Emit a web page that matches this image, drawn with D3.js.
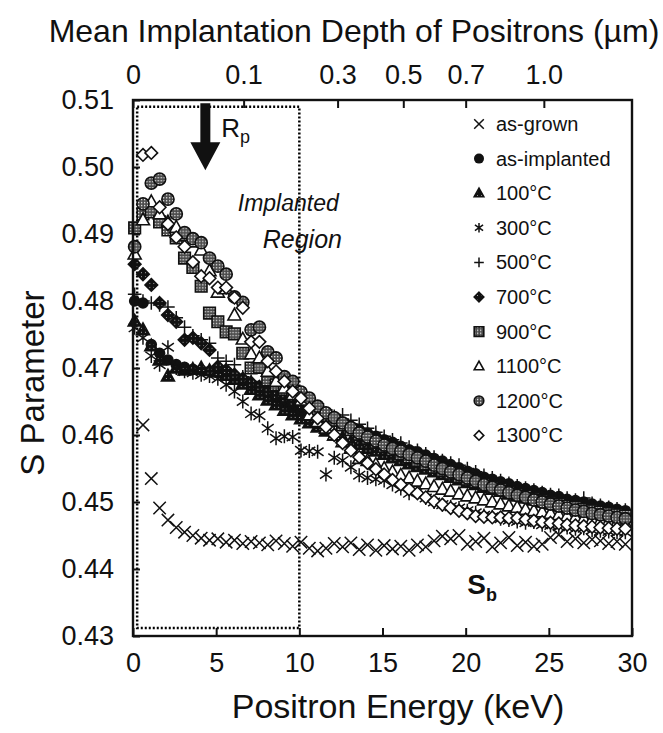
<!DOCTYPE html>
<html lang="en">
<head>
<meta charset="utf-8">
<title>S parameter vs positron energy</title>
<script src="https://cdn.jsdelivr.net/npm/d3@7"></script>
<style>
  body { margin: 0; background: #fff; }
  text { font-family: "Liberation Sans", Arial, sans-serif; fill: #111; }
</style>
</head>
<body>
<div id="chart"></div>
<script>
// positron energies (keV), shared by every series
var energies = [0.1, 0.6, 1.1, 1.6, 2.1, 2.6, 3.1, 3.6, 4.1, 4.6,
  5.1, 5.6, 6.1, 6.6, 7.1, 7.6, 8.1, 8.6, 9.1, 9.6,
  10.1, 10.6, 11.1, 11.6, 12.1, 12.6, 13.1, 13.6, 14.1, 14.6,
  15.1, 15.6, 16.1, 16.6, 17.1, 17.6, 18.1, 18.6, 19.1, 19.6,
  20.1, 20.6, 21.1, 21.6, 22.1, 22.6, 23.1, 23.6, 24.1, 24.6,
  25.1, 25.6, 26.1, 26.6, 27.1, 27.6, 28.1, 28.6, 29.1, 29.6];

// S parameter, one array per sample (null = no point)
var sAsGrown = [null, 0.4615, 0.4535, 0.4491, 0.4473, 0.4462, 0.4455, 0.4450, 0.4446, 0.4443,
  0.4445, 0.4440, 0.4443, 0.4438, 0.4441, 0.4439, 0.4436, 0.4442, 0.4438, 0.4434,
  0.4440, 0.4431, 0.4427, 0.4431, 0.4438, 0.4433, 0.4439, 0.4429, 0.4436, 0.4428,
  0.4435, 0.4430, 0.4434, 0.4428, 0.4436, 0.4433, 0.4442, 0.4449, 0.4445, 0.4450,
  0.4437, 0.4441, 0.4446, 0.4433, 0.4439, 0.4447, 0.4435, 0.4440, 0.4434, 0.4437,
  0.4447, 0.4451, 0.4441, 0.4445, 0.4439, 0.4444, 0.4442, 0.4438, 0.4441, 0.4437];
var sAsImplanted = [0.4800, 0.4797, 0.4735, 0.4722, 0.4712, 0.4705, 0.4701, 0.4698, 0.4697, 0.4695,
  0.4693, 0.4690, 0.4685, 0.4678, 0.4672, 0.4665, 0.4658, 0.4652, 0.4645, 0.4640,
  0.4634, 0.4632, 0.4629, 0.4625, 0.4622, 0.4618, 0.4613, 0.4608, 0.4603, 0.4598,
  0.4593, 0.4589, 0.4583, 0.4578, 0.4575, 0.4570, 0.4565, 0.4561, 0.4556, 0.4551,
  0.4546, 0.4542, 0.4537, 0.4534, 0.4530, 0.4527, 0.4523, 0.4520, 0.4517, 0.4514,
  0.4510, 0.4508, 0.4504, 0.4502, 0.4500, 0.4497, 0.4494, 0.4492, 0.4489, 0.4487];
var s100 = [0.4770, 0.4757, 0.4733, 0.4712, 0.4688, 0.4700, 0.4697, 0.4698, 0.4700, 0.4696,
  0.4694, 0.4689, 0.4683, 0.4676, 0.4668, 0.4660, 0.4652, 0.4645, 0.4637, 0.4630,
  0.4624, 0.4618, 0.4612, 0.4606, 0.4600, 0.4596, 0.4590, 0.4586, 0.4580, 0.4576,
  0.4571, 0.4566, 0.4562, 0.4557, 0.4553, 0.4549, 0.4545, 0.4541, 0.4537, 0.4533,
  0.4529, 0.4526, 0.4522, 0.4519, 0.4516, 0.4512, 0.4509, 0.4506, 0.4503, 0.4500,
  0.4497, 0.4494, 0.4492, 0.4489, 0.4487, 0.4485, 0.4483, 0.4481, 0.4479, 0.4477];
var s300 = [0.4760, 0.4745, 0.4718, 0.4705, 0.4731, 0.4700, 0.4695, 0.4693, 0.4690, 0.4688,
  0.4684, 0.4675, 0.4665, 0.4650, 0.4632, 0.4629, 0.4610, 0.4595, 0.4598, 0.4597,
  0.4577, 0.4576, 0.4575, 0.4541, 0.4566, 0.4562, 0.4552, 0.4540, 0.4536, 0.4534,
  0.4532, 0.4526, 0.4520, 0.4513, 0.4515, 0.4506, 0.4500, 0.4496, 0.4493, 0.4491,
  0.4487, 0.4484, 0.4480, 0.4478, 0.4475, 0.4473, 0.4471, 0.4469, 0.4470, 0.4466,
  0.4465, 0.4463, 0.4462, 0.4460, 0.4461, 0.4458, 0.4457, 0.4456, 0.4455, 0.4455];
var s500 = [0.4810, 0.4800, 0.4797, 0.4794, 0.4791, 0.4775, 0.4761, 0.4748, 0.4742, 0.4737,
  0.4715, 0.4710, 0.4705, 0.4687, 0.4680, 0.4672, 0.4665, 0.4660, 0.4652, 0.4648,
  0.4643, 0.4640, 0.4636, 0.4632, 0.4628, 0.4630, 0.4622, 0.4616, 0.4610, 0.4604,
  0.4598, 0.4593, 0.4588, 0.4582, 0.4577, 0.4572, 0.4567, 0.4562, 0.4558, 0.4555,
  0.4550, 0.4545, 0.4540, 0.4536, 0.4532, 0.4528, 0.4524, 0.4521, 0.4518, 0.4514,
  0.4511, 0.4510, 0.4506, 0.4503, 0.4506, 0.4498, 0.4495, 0.4492, 0.4490, 0.4488];
var s700 = [0.4855, 0.4840, 0.4824, 0.4797, 0.4779, 0.4769, 0.4742, 0.4745, 0.4737, 0.4727,
  0.4702, 0.4697, 0.4690, 0.4684, 0.4678, 0.4672, 0.4665, 0.4660, 0.4655, 0.4650,
  0.4645, 0.4638, 0.4633, 0.4627, 0.4621, 0.4615, 0.4609, 0.4603, 0.4598, 0.4592,
  0.4587, 0.4581, 0.4576, 0.4571, 0.4566, 0.4561, 0.4556, 0.4552, 0.4547, 0.4543,
  0.4539, 0.4535, 0.4531, 0.4527, 0.4523, 0.4520, 0.4516, 0.4513, 0.4510, 0.4507,
  0.4504, 0.4501, 0.4498, 0.4496, 0.4493, 0.4491, 0.4488, 0.4486, 0.4484, 0.4482];
var s900 = [0.4909, 0.4930, 0.4933, 0.4918, 0.4906, 0.4894, 0.4864, 0.4850, 0.4822, 0.4782,
  0.4769, 0.4754, 0.4751, 0.4722, 0.4700, 0.4701, 0.4682, 0.4675, 0.4668, 0.4662,
  0.4656, 0.4647, 0.4638, 0.4629, 0.4622, 0.4615, 0.4608, 0.4601, 0.4595, 0.4589,
  0.4583, 0.4578, 0.4572, 0.4567, 0.4562, 0.4557, 0.4552, 0.4547, 0.4543, 0.4538,
  0.4534, 0.4530, 0.4526, 0.4522, 0.4519, 0.4515, 0.4512, 0.4509, 0.4505, 0.4502,
  0.4499, 0.4497, 0.4494, 0.4492, 0.4489, 0.4487, 0.4485, 0.4483, 0.4481, 0.4479];
var s1100 = [0.4870, 0.4921, 0.4948, 0.4930, 0.4918, 0.4910, 0.4898, 0.4888, 0.4876, 0.4845,
  0.4813, 0.4818, 0.4779, 0.4743, 0.4721, 0.4715, 0.4695, 0.4680, 0.4670, 0.4660,
  0.4652, 0.4630, 0.4620, 0.4610, 0.4600, 0.4590, 0.4580, 0.4565, 0.4562, 0.4556,
  0.4550, 0.4545, 0.4540, 0.4536, 0.4531, 0.4527, 0.4523, 0.4519, 0.4516, 0.4512,
  0.4509, 0.4506, 0.4503, 0.4500, 0.4497, 0.4494, 0.4492, 0.4489, 0.4487, 0.4485,
  0.4483, 0.4481, 0.4479, 0.4477, 0.4475, 0.4474, 0.4472, 0.4471, 0.4469, 0.4468];
var s1200 = [0.4881, 0.4945, 0.4976, 0.4982, 0.4952, 0.4930, 0.4902, 0.4893, 0.4887, 0.4864,
  0.4852, 0.4840, 0.4806, 0.4798, 0.4757, 0.4761, 0.4724, 0.4715, 0.4687, 0.4680,
  0.4664, 0.4655, 0.4643, 0.4633, 0.4626, 0.4618, 0.4611, 0.4603, 0.4597, 0.4591,
  0.4585, 0.4580, 0.4576, 0.4571, 0.4566, 0.4561, 0.4555, 0.4550, 0.4545, 0.4541,
  0.4536, 0.4531, 0.4526, 0.4522, 0.4518, 0.4514, 0.4510, 0.4507, 0.4503, 0.4500,
  0.4497, 0.4494, 0.4491, 0.4488, 0.4486, 0.4483, 0.4481, 0.4479, 0.4477, 0.4475];
var s1300 = [null, 0.5018, 0.5021, 0.4940, 0.4915, 0.4895, 0.4881, 0.4858, 0.4837, 0.4834,
  0.4820, 0.4820, 0.4805, 0.4790, 0.4739, 0.4739, 0.4710, 0.4695, 0.4680, 0.4665,
  0.4655, 0.4640, 0.4625, 0.4612, 0.4600, 0.4588, 0.4577, 0.4567, 0.4558, 0.4549,
  0.4541, 0.4533, 0.4526, 0.4519, 0.4513, 0.4507, 0.4501, 0.4496, 0.4491, 0.4487,
  0.4483, 0.4479, 0.4478, 0.4477, 0.4477, 0.4476, 0.4476, 0.4474, 0.4472, 0.4470,
  0.4469, 0.4468, 0.4466, 0.4465, 0.4464, 0.4463, 0.4462, 0.4461, 0.4460, 0.4460];

var seriesNames = ["as-grown", "as-implanted", "100\u00B0C", "300\u00B0C", "500\u00B0C",
  "700\u00B0C", "900\u00B0C", "1100\u00B0C", "1200\u00B0C", "1300\u00B0C"];
var seriesValues = [sAsGrown, sAsImplanted, s100, s300, s500, s700, s900, s1100, s1200, s1300];
var seriesShapes = ["times", "circle", "triDark", "asterisk", "plus",
  "diaDark", "squarePat", "triOpen", "circlePat", "diaOpen"];

// axis ticks
var energyTicks = [0, 5, 10, 15, 20, 25, 30];
var sTicks = [0.43, 0.44, 0.45, 0.46, 0.47, 0.48, 0.49, 0.50, 0.51];
var depthTicks = [0, 0.1, 0.3, 0.5, 0.7, 1.0];          // um
var depthTickEnergy = [0, 6.65, 12.3, 16.25, 20.0, 24.7]; // keV where each depth sits

var width = 663, height = 733;
var margin = {top: 100, right: 31, bottom: 97, left: 133};
var plotW = width - margin.left - margin.right;
var plotH = height - margin.top - margin.bottom;

var svg = d3.select("#chart").append("svg")
  .attr("width", width).attr("height", height);

// fill patterns for the hatched markers
var defs = svg.append("defs");
var checker = defs.append("pattern").attr("id", "checker")
  .attr("patternUnits", "userSpaceOnUse").attr("width", 3).attr("height", 3);
checker.append("rect").attr("width", 3).attr("height", 3).attr("fill", "#4a4a4a");
checker.append("rect").attr("x", 1).attr("y", 1).attr("width", 1.3).attr("height", 1.3).attr("fill", "#eee");
var darkDots = defs.append("pattern").attr("id", "darkDots")
  .attr("patternUnits", "userSpaceOnUse").attr("width", 4).attr("height", 4);
darkDots.append("rect").attr("width", 4).attr("height", 4).attr("fill", "#111");
darkDots.append("rect").attr("x", 2).attr("y", 2).attr("width", 1).attr("height", 1).attr("fill", "#aaa");

var x = d3.scaleLinear().domain([0, 30]).range([0, plotW]);
var y = d3.scaleLinear().domain([0.43, 0.51]).range([plotH, 0]);
var xTop = d3.scaleLinear().domain(depthTicks).range(depthTickEnergy.map(x));

var g = svg.append("g").attr("transform", "translate(" + margin.left + "," + margin.top + ")");

function markerPath(shape, h) {
  if (shape === "times")
    return "M" + -h + "," + -h + "L" + h + "," + h + "M" + -h + "," + h + "L" + h + "," + -h;
  if (shape === "plus")
    return "M" + -h + ",0L" + h + ",0M0," + -h + "L0," + h;
  if (shape === "asterisk")
    return "M0," + -h + "L0," + h +
      "M" + -h * 0.85 + "," + -h * 0.6 + "L" + h * 0.85 + "," + h * 0.6 +
      "M" + -h * 0.85 + "," + h * 0.6 + "L" + h * 0.85 + "," + -h * 0.6;
  if (shape === "circle" || shape === "circlePat")
    return "M" + h + ",0A" + h + "," + h + " 0 1,1 " + -h + ",0A" + h + "," + h + " 0 1,1 " + h + ",0Z";
  if (shape === "triDark" || shape === "triOpen")
    return "M0," + -h * 1.05 + "L" + h + "," + h * 0.75 + "L" + -h + "," + h * 0.75 + "Z";
  if (shape === "diaDark" || shape === "diaOpen")
    return "M0," + -h + "L" + h + ",0L0," + h + "L" + -h + ",0Z";
  if (shape === "squarePat")
    return "M" + -h + "," + -h + "H" + h + "V" + h + "H" + -h + "Z";
}

function markerStyle(sel, shape) {
  var fills = {times: "none", plus: "none", asterisk: "none", circle: "#111",
    triDark: "url(#darkDots)", diaDark: "url(#darkDots)", squarePat: "url(#checker)",
    circlePat: "url(#checker)", triOpen: "#fff", diaOpen: "#fff"};
  sel.attr("fill", fills[shape])
    .attr("stroke", shape === "circle" ? "none" : "#111")
    .attr("stroke-width", (shape === "times" || shape === "plus" || shape === "asterisk") ? 1.5 : 1.6);
}

var markerSize = {times: 6.2, circle: 5.8, triDark: 6.5, asterisk: 7, plus: 6.8,
  diaDark: 6.3, squarePat: 5.8, triOpen: 6.5, circlePat: 6.1, diaOpen: 6.3};

// Implanted region box (dotted)
g.append("rect")
  .attr("x", x(0.25)).attr("y", y(0.5090))
  .attr("width", x(10) - x(0.25)).attr("height", y(0.4312) - y(0.5090))
  .attr("fill", "none").attr("stroke", "#000").attr("stroke-width", 2.5)
  .attr("stroke-dasharray", "2,2");

// data points
seriesValues.forEach(function(vals, k) {
  var pts = energies.map(function(e, i) { return [e, vals[i]]; })
    .filter(function(d) { return d[1] != null; });
  g.append("g").selectAll("path")
    .data(pts)
    .enter()
    .append("path")
    .attr("transform", function(d) { return "translate(" + x(d[0]) + "," + y(d[1]) + ")"; })
    .attr("d", markerPath(seriesShapes[k], markerSize[seriesShapes[k]]))
    .call(markerStyle, seriesShapes[k]);
});

// axes, ticks pointing inward
var fontTick = "27px";
g.append("g")
  .attr("transform", "translate(0," + plotH + ")")
  .call(d3.axisBottom(x).tickValues(energyTicks).tickSizeInner(-8).tickSizeOuter(0).tickPadding(17))
  .call(function(a) { a.select(".domain").remove(); });
g.append("g")
  .call(d3.axisLeft(y).tickValues(sTicks).tickFormat(d3.format(".2f")).tickSizeInner(-7).tickSizeOuter(0).tickPadding(19))
  .call(function(a) { a.select(".domain").remove(); });
g.append("g")
  .call(d3.axisTop(xTop).tickValues(depthTicks)
    .tickFormat(function(d) { return d === 0 ? "0" : d3.format(".1f")(d); })
    .tickSizeInner(-8).tickSizeOuter(0).tickPadding(16))
  .call(function(a) { a.select(".domain").remove(); });
g.selectAll(".tick text").attr("font-size", fontTick)
  .attr("font-family", "'Liberation Sans', Arial, sans-serif").attr("fill", "#111");
g.selectAll(".tick line").attr("stroke", "#111").attr("stroke-width", 2);

// frame
g.append("rect").attr("width", plotW).attr("height", plotH)
  .attr("fill", "none").attr("stroke", "#111").attr("stroke-width", 2.4);

// arrow marking Rp
var ax = x(4.35), ay0 = y(0.5095), ay1 = y(0.5037), ay2 = y(0.4995);
g.append("path")
  .attr("d", "M" + (ax - 5) + "," + ay0 + "H" + (ax + 5) + "V" + ay1 + "H" + (ax + 15) +
    "L" + ax + "," + ay2 + "L" + (ax - 15) + "," + ay1 + "H" + (ax - 5) + "Z")
  .attr("fill", "#111");
var rp = g.append("text").attr("x", x(5.3)).attr("y", y(0.5045)).attr("font-size", "26px");
rp.append("tspan").text("R");
rp.append("tspan").attr("dy", 6).attr("font-size", "18px").text("p");

// Implanted Region label
g.append("text").attr("x", x(6.3)).attr("y", y(0.4934))
  .attr("font-size", "23px").attr("font-style", "italic").text("Implanted");
g.append("text").attr("x", x(7.8)).attr("y", y(0.4879))
  .attr("font-size", "25px").attr("font-style", "italic").text("Region");

// Sb label
var sb = g.append("text").attr("x", x(20.1)).attr("y", y(0.4362))
  .attr("font-size", "28px").attr("font-weight", "bold");
sb.append("tspan").text("S");
sb.append("tspan").attr("dy", 7).attr("font-size", "18px").text("b");

// legend
var legend = svg.append("g").attr("transform", "translate(479,124)");
seriesNames.forEach(function(name, k) {
  var row = legend.append("g").attr("transform", "translate(0," + k * 34.6 + ")");
  row.append("path")
    .attr("d", markerPath(seriesShapes[k], seriesShapes[k] === "circle" ? 5 : 4.8))
    .call(markerStyle, seriesShapes[k]);
  row.append("text").attr("x", 17).attr("y", 7).attr("font-size", "20px").text(name);
});

// axis titles
svg.append("text").attr("x", 354).attr("y", 42).attr("text-anchor", "middle")
  .attr("font-size", "32px").text("Mean Implantation Depth of Positrons (\u00B5m)");
svg.append("text").attr("x", 398).attr("y", 718).attr("text-anchor", "middle")
  .attr("font-size", "34px").text("Positron Energy (keV)");
svg.append("text").attr("transform", "translate(44,383) rotate(-90)").attr("text-anchor", "middle")
  .attr("font-size", "33px").text("S Parameter");
</script>
</body>
</html>
